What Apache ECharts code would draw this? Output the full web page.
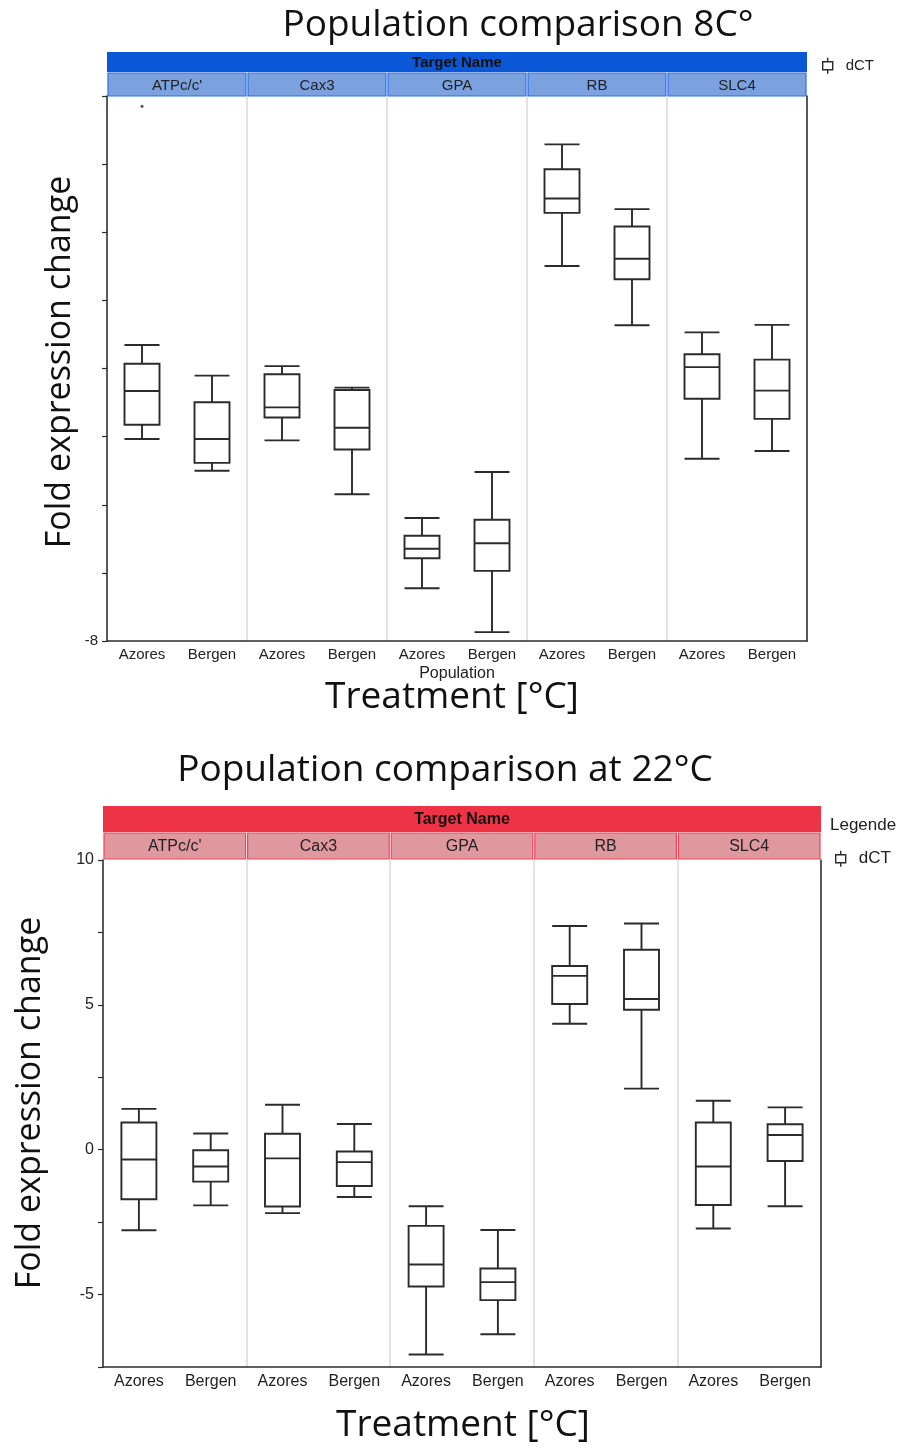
<!DOCTYPE html>
<html>
<head>
<meta charset="utf-8">
<script src="https://cdn.jsdelivr.net/npm/echarts@6/dist/echarts.min.js"></script>
<style>
  html, body { margin: 0; padding: 0; background: #ffffff; }
  #main { width: 900px; height: 1448px; }
</style>
</head>
<body>
<div id="main"></div>
<script>
// Target genes (facets) and populations (categories inside each facet)
const genes = ["ATPc/c'", "Cax3", "GPA", "RB", "SLC4"];
const populations = ["Azores", "Bergen"];

// dCT five-number summaries [min, Q1, median, Q3, max], one row per gene — 8 °C
const azores8 = [
  [-2.07, -1.65, -0.66, 0.14, 0.69],
  [-2.11, -1.44, -1.14, -0.17, 0.07],
  [-6.45, -5.57, -5.29, -4.91, -4.39],
  [3.01, 4.57, 4.99, 5.85, 6.58],
  [-2.65, -0.89, 0.04, 0.42, 1.06]
];
const bergen8 = [
  [-3.00, -2.77, -2.07, -0.99, -0.21],
  [-3.69, -2.38, -1.74, -0.63, -0.56],
  [-7.74, -5.94, -5.13, -4.44, -3.04],
  [1.27, 2.62, 3.22, 4.17, 4.68],
  [-2.42, -1.48, -0.65, 0.26, 1.28]
];
// outliers at 8 °C: [gene index, population index, value]
const outliers8 = [[0, 0, 7.7]];

// dCT five-number summaries — 22 °C
const azores22 = [
  [-2.78, -1.71, -0.34, 0.94, 1.41],
  [-2.19, -1.96, -0.30, 0.55, 1.55],
  [-7.07, -4.72, -3.96, -2.63, -1.95],
  [4.35, 5.03, 6.00, 6.34, 7.72],
  [-2.72, -1.91, -0.58, 0.94, 1.69]
];
const bergen22 = [
  [-1.92, -1.10, -0.58, -0.02, 0.56],
  [-1.63, -1.25, -0.43, -0.06, 0.89],
  [-6.37, -5.19, -4.57, -4.10, -2.77],
  [2.11, 4.83, 5.20, 6.90, 7.81],
  [-1.95, -0.39, 0.51, 0.88, 1.46]
];

// y-axis scales
const yScale8 = { min: -8, max: 8, interval: 2, labelled: [-8] };
const yScale22 = { min: -7.5, max: 10, interval: 2.5, labelled: [-5, 0, 5, 10] };

// ---------- build helpers ----------
const categories = [];
genes.forEach(g => populations.forEach(p => categories.push(g + '|' + p)));

function interleave(az, be) {
  const out = [];
  genes.forEach((g, i) => { out.push(az[i]); out.push(be[i]); });
  return out;
}

const FONT_LABEL = "'Liberation Sans', Arial, sans-serif";
const FONT_BIG = "'Open Sans', sans-serif";
const INK = '#2b2b2b';

// panel geometry and text sizes
const panels = [
  { left: 107, right: 807, top: 96, bottom: 641, band: 52, bandH: 20, strip: 73, stripH: 23,
    bandColor: '#0a57d7', stripColor: '#7ca1df', stripBorder: '#2d6ee3',
    labelSize: 15, stripSize: 15, bandSize: 15, tickSize: 15 },
  { left: 103, right: 821, top: 860, bottom: 1367, band: 806, bandH: 26, strip: 833, stripH: 26,
    bandColor: '#ee3347', stripColor: '#e0989f', stripBorder: '#f24357',
    labelSize: 16, stripSize: 16, bandSize: 16, tickSize: 16 }
];

function gridFor(p) {
  return { left: p.left, top: p.top, width: p.right - p.left, height: p.bottom - p.top, containLabel: false };
}

function categoryAxis(gi) {
  return {
    type: 'category', gridIndex: gi, data: categories, boundaryGap: true,
    axisLine: { show: true, onZero: false, lineStyle: { color: INK, width: 1.5 } },
    axisTick: { show: false },
    axisLabel: {
      interval: 0, margin: gi === 0 ? 6 : 7, fontSize: panels[gi].labelSize, fontFamily: FONT_LABEL, color: '#222',
      formatter: v => v.split('|')[1]
    },
    splitLine: { show: false }
  };
}

// hidden value axis used only to draw facet separators
function facetAxis(gi) {
  return {
    type: 'value', gridIndex: gi, position: 'top', min: 0, max: categories.length, interval: 2,
    axisLine: { show: false }, axisTick: { show: false }, axisLabel: { show: false },
    splitLine: { show: true, lineStyle: { color: '#d9d9d9', width: 1.5 } }
  };
}

function valueAxis(gi, s) {
  return {
    type: 'value', gridIndex: gi, min: s.min, max: s.max, interval: s.interval,
    axisLine: { show: true, onZero: false, lineStyle: { color: INK, width: 1.5 } },
    axisTick: { show: true, length: 5, lineStyle: { color: INK, width: 1.2 } },
    axisLabel: {
      fontSize: panels[gi].tickSize, fontFamily: FONT_LABEL, color: '#222', margin: 9,
      formatter: v => (s.labelled.indexOf(v) >= 0 ? String(v) : '')
    },
    splitLine: { show: false }
  };
}

function borderAxis(gi) {
  return {
    type: 'value', gridIndex: gi, position: 'right', min: 0, max: 1,
    axisLine: { show: true, onZero: false, lineStyle: { color: INK, width: 1.5 } },
    axisTick: { show: false }, axisLabel: { show: false }, splitLine: { show: false }
  };
}

function boxSeries(xi, yi, data) {
  return {
    name: 'dCT', type: 'boxplot', xAxisIndex: xi, yAxisIndex: yi,
    data: data, boxWidth: [35, 35],
    itemStyle: { color: '#ffffff', borderColor: INK, borderWidth: 1.9 },
    emphasis: { disabled: true },
    z: 5
  };
}

// facet header graphics (band + strips + text)
function headerGraphics(p) {
  const els = [];
  const w = p.right - p.left;
  els.push({ type: 'rect', shape: { x: p.left, y: p.band, width: w, height: p.bandH },
    style: { fill: p.bandColor }, silent: true });
  els.push({ type: 'text', x: p.left + w / 2, y: p.band + p.bandH / 2 + 1,
    style: { text: 'Target Name', fontSize: p.bandSize, fontWeight: 'bold', fontFamily: FONT_LABEL, fill: '#111',
      align: 'center', verticalAlign: 'middle' }, silent: true });
  const cw = w / genes.length;
  genes.forEach((g, i) => {
    els.push({ type: 'rect', shape: { x: p.left + i * cw + 1, y: p.strip, width: cw - 2, height: p.stripH },
      style: { fill: p.stripColor, stroke: p.stripBorder, lineWidth: 1.2 }, silent: true });
    els.push({ type: 'text', x: p.left + i * cw + cw / 2, y: p.strip + p.stripH / 2 + 1,
      style: { text: g, fontSize: p.stripSize, fontFamily: FONT_LABEL, fill: '#222', align: 'center', verticalAlign: 'middle' },
      silent: true });
  });
  return els;
}

function bigText(text, x, y, size, rot) {
  return { type: 'text', x: x, y: y, rotation: rot || 0,
    style: { text: text, fontSize: size, fontFamily: FONT_BIG, fill: '#111', align: 'center', verticalAlign: 'middle' },
    silent: true };
}

const outlierData8 = outliers8.map(o => [o[0] * populations.length + o[1], o[2]]);

const graphics = []
  .concat(headerGraphics(panels[0]))
  .concat(headerGraphics(panels[1]))
  .concat([
    bigText('Population comparison 8C\u00b0', 518, 25, 37),
    bigText('Fold expression change', 60, 362, 34, Math.PI / 2),
    { type: 'text', x: 457, y: 674, style: { text: 'Population', fontSize: 16, fontFamily: FONT_LABEL, fill: '#222',
        align: 'center', verticalAlign: 'middle' }, silent: true },
    bigText('Treatment [\u00b0C]', 452, 697, 37),
    bigText('Population comparison at 22\u00b0C', 445, 770, 37),
    bigText('Fold expression change', 30, 1103, 34, Math.PI / 2),
    bigText('Treatment [\u00b0C]', 463, 1425, 37),
    { type: 'text', x: 830, y: 825, style: { text: 'Legende', fontSize: 17, fontFamily: FONT_LABEL, fill: '#222',
        align: 'left', verticalAlign: 'middle' }, silent: true }
  ]);

const legendIcon = 'path://M6,0V4M1,4H11V12H1ZM6,12V16';
function legendAt(left, top, size) {
  return {
    left: left, top: top, orient: 'vertical', data: [{ name: 'dCT', icon: legendIcon }],
    itemWidth: 12, itemHeight: 16, selectedMode: false,
    itemStyle: { color: '#ffffff', borderColor: INK, borderWidth: 1.4 },
    textStyle: { fontSize: size, fontFamily: FONT_LABEL, color: '#222', padding: [0, 0, 0, 7] }
  };
}

const option = {
  animation: false,
  backgroundColor: '#ffffff',
  grid: [gridFor(panels[0]), gridFor(panels[1])],
  xAxis: [categoryAxis(0), facetAxis(0), categoryAxis(1), facetAxis(1)],
  yAxis: [valueAxis(0, yScale8), borderAxis(0), valueAxis(1, yScale22), borderAxis(1)],
  legend: [legendAt(817, 52, 15), legendAt(830, 845, 17)],
  series: [
    boxSeries(0, 0, interleave(azores8, bergen8)),
    {
      name: 'dCT', type: 'scatter', xAxisIndex: 0, yAxisIndex: 0, data: outlierData8,
      symbolSize: 3, itemStyle: { color: '#222' }, emphasis: { disabled: true }, z: 6
    },
    boxSeries(2, 2, interleave(azores22, bergen22))
  ],
  graphic: graphics
};

const chart = echarts.init(document.getElementById('main'), null, { renderer: 'canvas' });
chart.setOption(option);
</script>
</body>
</html>
